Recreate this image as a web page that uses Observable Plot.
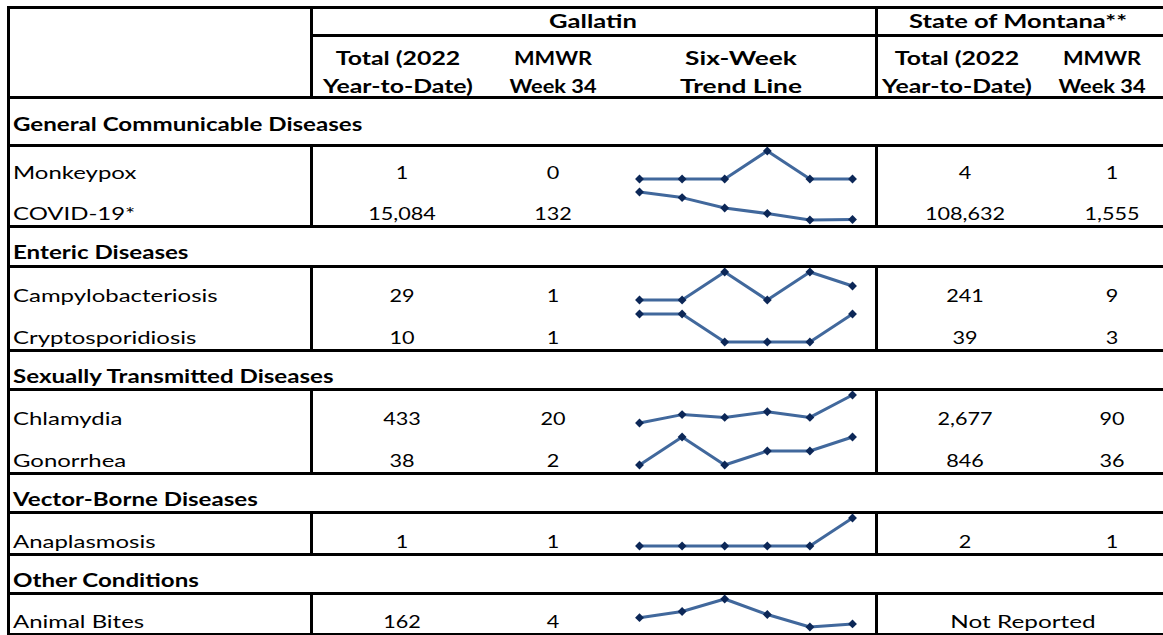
<!DOCTYPE html>
<html>
<head>
<meta charset="utf-8">
<script src="https://cdn.jsdelivr.net/npm/d3@7"></script>
<script src="https://cdn.jsdelivr.net/npm/@observablehq/plot@0.6"></script>
<style>
html, body { margin: 0; padding: 0; background: #fff; }
#wrap { position: relative; width: 1163px; height: 635px; overflow: hidden;
        font-family: Lato, "Noto Sans", sans-serif; font-size: 18px; color: #000; }
.hl { position: absolute; background: #000; height: 3px; }
.vl { position: absolute; background: #000; width: 3px; }
.tc, .tl { position: absolute; white-space: nowrap; line-height: 1; }
.tc { transform: translate(-50%, -50%) scaleX(var(--sx, 1.2)); }
.tl { transform-origin: 0 50%; transform: translate(0, -50%) scaleX(var(--sx, 1.2)); }
.b { font-weight: 700; }
.spark { position: absolute; }
</style>
</head>
<body>
<div id="wrap"></div>
<script>
// ---------------- DATA ----------------
const groupHeaders = ["Gallatin", "State of Montana**"];
const columnHeaders = [
  ["Total (2022", "Year-to-Date)"],
  ["MMWR", "Week 34"],
  ["Six-Week", "Trend Line"],
  ["Total (2022", "Year-to-Date)"],
  ["MMWR", "Week 34"]
];
const sections = ["General Communicable Diseases", "Enteric Diseases",
  "Sexually Transmitted Diseases", "Vector-Borne Diseases", "Other Conditions"];
const diseases = ["Monkeypox", "COVID-19*", "Campylobacteriosis", "Cryptosporidiosis",
  "Chlamydia", "Gonorrhea", "Anaplasmosis", "Animal Bites"];
const diseaseSection = [0, 0, 1, 1, 2, 2, 3, 4];
const gallatinTotal = [1, 15084, 29, 10, 433, 38, 1, 162];
const gallatinWeek34 = [0, 132, 1, 1, 20, 2, 1, 4];
const montanaTotal = [4, 108632, 241, 39, 2677, 846, 2, null];
const montanaWeek34 = [1, 1555, 9, 3, 90, 36, 1, null];
const notReportedLabel = "Not Reported";
const weeks = [29, 30, 31, 32, 33, 34];
const trendMonkeypox = [0, 0, 0, 1, 0, 0];
const trendCovid = [230, 210, 173, 153, 130, 132];
const trendCampylobacteriosis = [0, 0, 2, 0, 2, 1];
const trendCryptosporidiosis = [1, 1, 0, 0, 0, 1];
const trendChlamydia = [10, 13, 12, 14, 12, 20];
const trendGonorrhea = [0, 2, 0, 1, 1, 2];
const trendAnaplasmosis = [0, 0, 0, 0, 0, 1];
const trendAnimalBites = [6, 8, 12, 7, 3, 4];
const trends = [trendMonkeypox, trendCovid, trendCampylobacteriosis, trendCryptosporidiosis,
  trendChlamydia, trendGonorrhea, trendAnaplasmosis, trendAnimalBites];

// ---------------- LAYOUT ----------------
const L = {
  left: 8, c1: 311, c4: 876, right: 1170,
  trendLeft: 613, trendRight: 876,
  nameX: 13,
  valueX: [402, 553, null, 965, 1112],
  headerX: [398, 553, 741, 957, 1102],
  headerScale: [1.38, 1.21, 1.46, 1.38, 1.21],
  groupX: [593, 1018],
  groupScale: 1.42,
  top: 7, headMid: 35, headBottom: 97,
  groupY: 21, headY: [58, 86],
  sectionH: [48, 40, 39, 39, 39],
  sectionTextOff: [21, 14, 13.5, 13.5, 13],
  sectionScale: 1.34,
  nameScale: 1.33,
  numScale: 1.2,
  noteScale: 1.35,
  rowH: [40.5, 40.5, 42, 42, 42, 42, 42, 41],
  rowTextOff: 13.5
};
const fmt = d3.format(",");
const wrap = document.getElementById("wrap");

function hline(y, x0, x1) {
  const d = document.createElement("div");
  d.className = "hl";
  Object.assign(d.style, {left: (x0 - 1.5) + "px", top: (y - 1.5) + "px", width: (x1 - x0 + 3) + "px"});
  wrap.appendChild(d);
}
function vline(x, y0, y1) {
  const d = document.createElement("div");
  d.className = "vl";
  Object.assign(d.style, {left: (x - 1.5) + "px", top: (y0 - 1.5) + "px", height: (y1 - y0 + 3) + "px"});
  wrap.appendChild(d);
}
function text(str, x, y, cls, sx) {
  const d = document.createElement("div");
  d.className = cls;
  d.textContent = str;
  Object.assign(d.style, {left: x + "px", top: y + "px"});
  d.style.setProperty("--sx", sx);
  wrap.appendChild(d);
}

// Header
hline(L.top, L.left, L.right);
hline(L.headMid, L.c1, L.right);
hline(L.headBottom, L.left, L.right);
vline(L.left, L.top, L.headBottom);
vline(L.c1, L.top, L.headBottom);
vline(L.c4, L.top, L.headBottom);
groupHeaders.forEach((g, i) => text(g, L.groupX[i], L.groupY, "tc b", L.groupScale));
columnHeaders.forEach((lines, i) => lines.forEach((s, j) =>
  text(s, L.headerX[i], L.headY[j], "tc b", L.headerScale[i])));

// Body
let y = L.headBottom;
sections.forEach((sec, si) => {
  const secTop = y;
  y += L.sectionH[si];
  vline(L.left, secTop, y);
  text(sec, L.nameX, y - L.sectionTextOff[si], "tl b", L.sectionScale);
  hline(y, L.left, L.right);
  const blockTop = y;
  diseases.forEach((name, di) => {
    if (diseaseSection[di] !== si) return;
    const rowTop = y;
    const h = L.rowH[di];
    y += h;
    const ty = y - L.rowTextOff;
    text(name, L.nameX, ty, "tl", L.nameScale);
    text(fmt(gallatinTotal[di]), L.valueX[0], ty, "tc", L.numScale);
    text(fmt(gallatinWeek34[di]), L.valueX[1], ty, "tc", L.numScale);
    if (montanaTotal[di] == null) {
      text(notReportedLabel, (L.c4 + L.right) / 2, ty, "tc", L.noteScale);
    } else {
      text(fmt(montanaTotal[di]), L.valueX[3], ty, "tc", L.numScale);
      text(fmt(montanaWeek34[di]), L.valueX[4], ty, "tc", L.numScale);
    }
    // sparkline
    const data = weeks.map((w, k) => ({week: w, value: trends[di][k]}));
    const svg = Plot.plot({
      width: L.trendRight - L.trendLeft,
      height: h,
      margin: 0,
      x: {domain: [weeks[0], weeks[weeks.length - 1]], range: [26, 239], axis: null},
      y: {range: [33.5, 5.5], axis: null},
      style: {background: "transparent", overflow: "visible"},
      marks: [
        Plot.line(data, {x: "week", y: "value", stroke: "#41689c", strokeWidth: 3}),
        Plot.dot(data, {x: "week", y: "value", symbol: "diamond2", r: 4, fill: "#0c2757", stroke: "none"})
      ]
    });
    const holder = document.createElement("div");
    holder.className = "spark";
    Object.assign(holder.style, {left: L.trendLeft + "px", top: rowTop + "px"});
    holder.appendChild(svg);
    wrap.appendChild(holder);
  });
  const blockBottom = y;
  vline(L.left, blockTop, blockBottom);
  vline(L.c1, blockTop, blockBottom);
  vline(L.c4, blockTop, blockBottom);
  hline(blockBottom, L.left, L.right);
});
</script>
</body>
</html>
